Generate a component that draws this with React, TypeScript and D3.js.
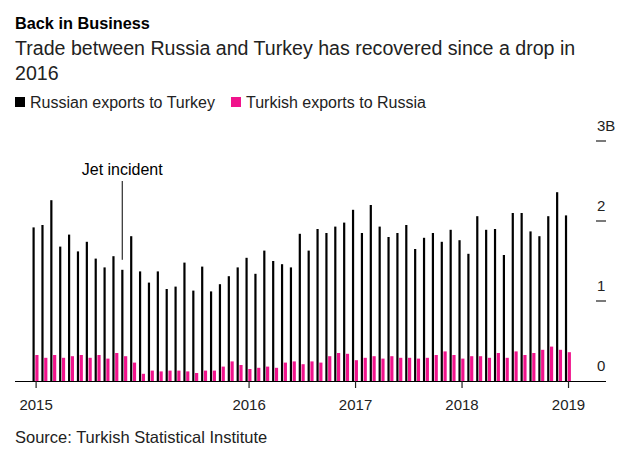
import React from "react";
import * as d3 from "d3";

const russianExports: number[] = [
  1.92, 1.95, 2.26, 1.68, 1.83, 1.62, 1.74, 1.53, 1.42, 1.56, 1.39, 1.81,
  1.37, 1.23, 1.37, 1.15, 1.18, 1.48, 1.13, 1.43, 1.12, 1.21, 1.31, 1.42,
  1.54, 1.34, 1.63, 1.5, 1.46, 1.42, 1.84, 1.63, 1.9, 1.85, 1.93, 1.98,
  2.14, 1.85, 2.2, 1.93, 1.8, 1.85, 1.95, 1.65, 1.79, 1.85, 1.74, 1.89,
  1.76, 1.59, 2.06, 1.89, 1.9, 1.575, 2.1, 2.1, 1.87, 1.81, 2.06, 2.36,
  2.07,
];
const turkishExports: number[] = [
  0.325, 0.29, 0.325, 0.29, 0.31, 0.325, 0.29, 0.325, 0.28, 0.35, 0.31, 0.23,
  0.09, 0.13, 0.12, 0.13, 0.13, 0.12, 0.1, 0.13, 0.13, 0.18, 0.245, 0.2,
  0.15, 0.165, 0.18, 0.165, 0.23, 0.245, 0.21, 0.245, 0.23, 0.31, 0.35, 0.34,
  0.26, 0.29, 0.31, 0.28, 0.31, 0.29, 0.29, 0.28, 0.29, 0.325, 0.37, 0.325,
  0.28, 0.31, 0.31, 0.29, 0.35, 0.29, 0.37, 0.325, 0.35, 0.39, 0.43, 0.39,
  0.36,
];
const months: number[] = russianExports.map((_, i) => i);

const xTickIndex: number[] = [0, 24, 36, 48, 60];
const xTickLabels: string[] = ["2015", "2016", "2017", "2018", "2019"];
const yTicks: number[] = [0, 1, 2, 3];
const yTickLabels: string[] = ["0", "1", "2", "3B"];

const seriesNames: string[] = ["Russian exports to Turkey", "Turkish exports to Russia"];
const seriesColors: string[] = ["#000000", "#f0148c"];

const annotationIndex = 10;
const annotationText = "Jet incident";

const FONT = "'Liberation Sans', Arial, Helvetica, sans-serif";

export default function App() {
  const W = 642;
  const H = 472;

  const x = d3
    .scaleBand<number>()
    .domain(months)
    .range([32.5, 32.5 + 61 * 8.83])
    .paddingInner(0.3)
    .paddingOuter(0);
  const bw = x.bandwidth();
  const y = d3.scaleLinear().domain([0, 3]).range([381, 141]);

  const blackW = 2.2;
  const pinkOff = 2.8;
  const pinkW = 3.2;

  return (
    <svg
      width={W}
      height={H}
      style={{ position: "absolute", left: 0, top: 0, background: "#fff" }}
      fontFamily={FONT}
    >
      <rect x={0} y={0} width={W} height={H} fill="#fff" />
      <text x={15} y={29} fontSize={16.3} fontWeight="bold" fill="#000">
        Back in Business
      </text>
      <text x={15} y={55} fontSize={19.6} fill="#222">
        Trade between Russia and Turkey has recovered since a drop in
      </text>
      <text x={15} y={80} fontSize={19.6} fill="#222">
        2016
      </text>

      {seriesNames.map((n, i) => {
        const lx = i === 0 ? 15 : 231;
        return (
          <g key={n}>
            <rect x={lx} y={97} width={10} height={10} fill={seriesColors[i]} />
            <text x={lx + 15} y={108} fontSize={16} fill="#222">
              {n}
            </text>
          </g>
        );
      })}

      {/* y axis labels and ticks */}
      {yTicks.map((t, i) => (
        <g key={t}>
          <text x={597} y={y(t) - 10} fontSize={15} fill="#222">
            {yTickLabels[i]}
          </text>
          {t > 0 && (
            <line x1={596} x2={606} y1={y(t)} y2={y(t)} stroke="#222" strokeWidth={1.2} />
          )}
        </g>
      ))}

      {/* bars */}
      {months.map((m) => (
        <g key={m}>
          <rect
            x={x(m)!}
            y={y(russianExports[m])}
            width={blackW}
            height={y(0) - y(russianExports[m])}
            fill={seriesColors[0]}
          />
          <rect
            x={x(m)! + pinkOff}
            y={y(turkishExports[m])}
            width={pinkW}
            height={y(0) - y(turkishExports[m])}
            fill={seriesColors[1]}
          />
        </g>
      ))}

      {/* baseline */}
      <line x1={15} x2={606} y1={y(0) + 0.5} y2={y(0) + 0.5} stroke="#000" strokeWidth={1} />

      {/* x ticks */}
      {xTickIndex.map((ti, i) => {
        const cx = x(ti)! + bw / 2 + 0.5;
        return (
          <g key={ti}>
            <line x1={cx} x2={cx} y1={y(0)} y2={y(0) + 7} stroke="#222" strokeWidth={1.2} />
            <text x={cx} y={410} fontSize={15} textAnchor="middle" fill="#222">
              {xTickLabels[i]}
            </text>
          </g>
        );
      })}

      {/* annotation */}
      <line
        x1={x(annotationIndex)! + 1}
        x2={x(annotationIndex)! + 1}
        y1={181}
        y2={y(russianExports[annotationIndex]) - 10}
        stroke="#000"
        strokeWidth={1}
      />
      <text x={x(annotationIndex)! + 1} y={175} fontSize={16} textAnchor="middle" fill="#000">
        {annotationText}
      </text>

      <text x={15} y={443} fontSize={16.5} fill="#222">
        Source: Turkish Statistical Institute
      </text>
    </svg>
  );
}
